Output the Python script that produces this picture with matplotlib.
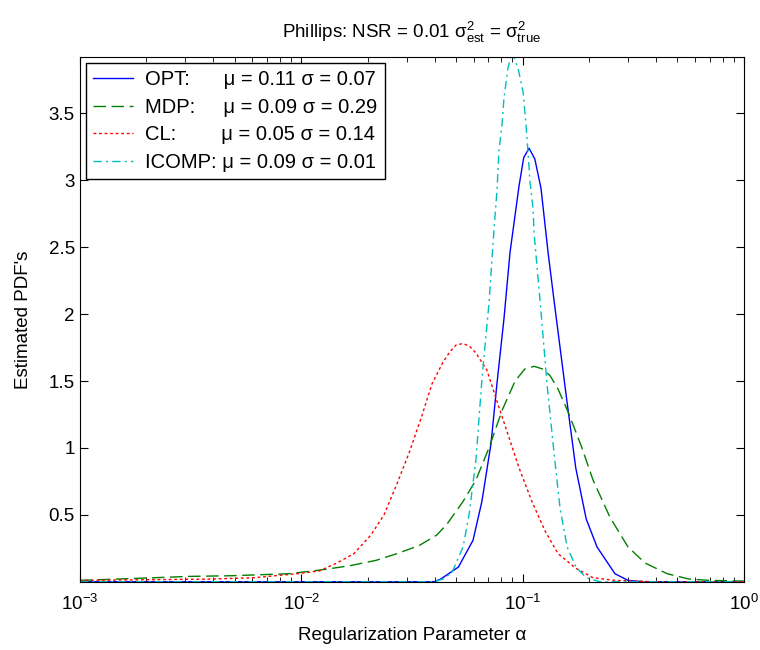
import numpy as np
import matplotlib
matplotlib.use("Agg")
import matplotlib.pyplot as plt

plt.rcParams['font.family'] = ['Liberation Sans', 'DejaVu Sans']
plt.rcParams['mathtext.fontset'] = 'custom'
plt.rcParams['mathtext.rm'] = 'Liberation Sans'
plt.rcParams['mathtext.it'] = 'Liberation Sans'
plt.rcParams['mathtext.bf'] = 'Liberation Sans'

FS = 13.5

# log10(alpha) positions and PDF values
opt_log = [-3.0, -1.40, -1.37, -1.29, -1.224, -1.184, -1.143, -1.116, -1.084, -1.057, -1.016,
           -0.995, -0.971, -0.945, -0.917, -0.885, -0.858, -0.80, -0.76, -0.713, -0.664, -0.583,
           -0.524, -0.45, 0.0]
opt_pdf = [0, 0, 0.02, 0.11, 0.31, 0.60, 1.03, 1.48, 1.97, 2.46, 2.96,
           3.17, 3.24, 3.16, 2.94, 2.46, 2.10, 1.35, 0.85, 0.47, 0.26, 0.06,
           0.01, 0, 0]

mdp_log = [-3.0, -2.666, -2.507, -2.313, -2.056, -1.902, -1.780, -1.662, -1.568, -1.468, -1.387,
           -1.342, -1.269, -1.211, -1.152, -1.093, -1.034, -0.990, -0.948, -0.910, -0.876, -0.840,
           -0.790, -0.732, -0.682, -0.605, -0.524, -0.447, -0.347, -0.248, -0.153, 0.0]
mdp_pdf = [0.01, 0.03, 0.04, 0.045, 0.06, 0.09, 0.12, 0.16, 0.21, 0.27, 0.35,
           0.43, 0.60, 0.76, 1.00, 1.28, 1.50, 1.59, 1.61, 1.59, 1.54, 1.44,
           1.25, 1.00, 0.76, 0.48, 0.26, 0.14, 0.06, 0.02, 0.01, 0.005]

cl_log = [-3.0, -2.706, -2.413, -2.214, -2.019, -1.920, -1.839, -1.762, -1.685, -1.626, -1.568,
          -1.509, -1.459, -1.409, -1.360, -1.328, -1.300, -1.269, -1.240, -1.211, -1.161, -1.116,
          -1.066, -1.016, -0.958, -0.899, -0.840, -0.759, -0.682, -0.583, -0.4, 0.0]
cl_pdf = [0.01, 0.015, 0.02, 0.03, 0.06, 0.08, 0.14, 0.21, 0.35, 0.50, 0.73,
          0.98, 1.22, 1.48, 1.64, 1.72, 1.77, 1.78, 1.76, 1.71, 1.58, 1.35,
          1.10, 0.85, 0.60, 0.38, 0.21, 0.10, 0.03, 0.01, 0, 0]

icomp_log = [-3.0, -1.40, -1.360, -1.319, -1.269, -1.242, -1.211, -1.183, -1.152, -1.129, -1.116,
             -1.107, -1.093, -1.084, -1.066, -1.048, -1.021, -0.998, -0.985, -0.976, -0.967,
             -0.953, -0.948, -0.917, -0.890, -0.858, -0.831, -0.799, -0.759, -0.713, -0.65, 0.0]
icomp_pdf = [0, 0, 0.02, 0.07, 0.26, 0.50, 0.91, 1.53, 2.08, 2.64, 2.92,
             3.22, 3.42, 3.62, 3.84, 3.96, 3.84, 3.66, 3.42, 3.22, 2.99,
             2.79, 2.60, 2.02, 1.48, 0.96, 0.55, 0.26, 0.11, 0.03, 0, 0]

labels = ["OPT:      \u03bc = 0.11 \u03c3 = 0.07",
          "MDP:     \u03bc = 0.09 \u03c3 = 0.29",
          "CL:        \u03bc = 0.05 \u03c3 = 0.14",
          "ICOMP: \u03bc = 0.09 \u03c3 = 0.01"]

fig = plt.figure(figsize=(7.6, 6.5), dpi=100)
ax = fig.add_axes([0.105, 0.105, 0.874, 0.807])

ax.semilogx(10 ** np.array(opt_log), opt_pdf, color=(0, 0, 1), lw=1.0, label=labels[0])
ax.semilogx(10 ** np.array(mdp_log), mdp_pdf, color=(0, 0.5, 0), lw=1.0,
            dashes=(9, 4), label=labels[1])
ax.semilogx(10 ** np.array(cl_log), cl_pdf, color=(1, 0, 0), lw=1.0,
            dashes=(2, 2), label=labels[2])
ax.semilogx(10 ** np.array(icomp_log), icomp_pdf, color=(0, 0.75, 0.75), lw=1.0,
            dashes=(6, 3, 1.5, 3), label=labels[3])

ax.set_xlim(1e-3, 1)
ax.set_ylim(0, 3.92)
ax.set_yticks([0.5, 1, 1.5, 2, 2.5, 3, 3.5])
ax.set_yticklabels(['0.5', '1', '1.5', '2', '2.5', '3', '3.5'])
ax.tick_params(which='both', direction='in', top=True, right=True, labelsize=FS)
ax.tick_params(which='major', length=6)
ax.tick_params(which='minor', length=3.5)
ax.tick_params(axis='x', pad=9)

ax.set_title(r'Phillips: NSR = 0.01 $\sigma^2_{\rm est}$ = $\sigma^2_{\rm true}$', fontsize=FS, pad=14)
ax.set_xlabel('Regularization Parameter \u03b1', fontsize=FS, labelpad=9)
ax.set_ylabel("Estimated PDF's", fontsize=FS, labelpad=12)

leg = ax.legend(loc='upper left', fontsize=14.5, fancybox=False, edgecolor='black',
                framealpha=1, borderaxespad=0.3, handlelength=2.0, handletextpad=0.6,
                labelspacing=0.42, borderpad=0.35)
leg.get_frame().set_linewidth(1.0)

fig.savefig('out.png', dpi=100)
